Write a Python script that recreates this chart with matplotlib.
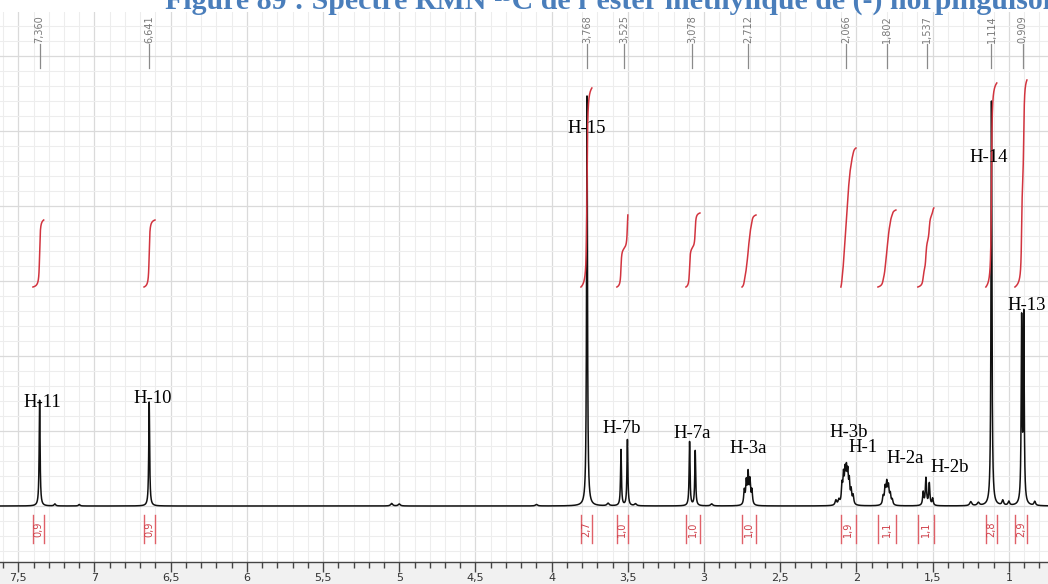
import numpy as np
import matplotlib
matplotlib.use("Agg")
import matplotlib.pyplot as plt
from matplotlib.ticker import MultipleLocator, FuncFormatter
from matplotlib.patches import Rectangle

# ---------------- data ----------------
# spectral lines: position (ppm), height (a.u.), half-width (ppm)
line_ppm = [7.360, 6.641,
            3.768,
            3.545, 3.503,
            3.095, 3.058,
            2.736, 2.723, 2.711, 2.699, 2.686,
            2.135, 2.115, 2.095, 2.085, 2.075, 2.066, 2.057, 2.047, 2.035, 2.022,
            1.825, 1.812, 1.801, 1.790, 1.778, 1.765,
            1.562, 1.544, 1.522, 1.500,
            1.114,
            0.916, 0.902,
            7.26, 7.10, 5.05, 5.00, 4.10, 3.63, 3.45, 2.95, 1.25, 1.20, 1.04, 1.00, 0.83]
line_height = [106, 104,
               410,
               56, 66,
               64, 55,
               14, 22, 30, 23, 14,
               5, 5, 18, 26, 28, 29, 27, 21, 13, 9,
               8, 16, 20, 17, 10, 5,
               13, 27, 22, 7,
               405,
               182, 186,
               2, 1.5, 2.5, 2, 1.5, 2.5, 2, 2, 4, 3, 5, 4, 4]
line_hwhm = [0.0035, 0.0035,
             0.0035,
             0.0035, 0.0035,
             0.0035, 0.0035,
             0.0045, 0.0045, 0.0045, 0.0045, 0.0045,
             0.006, 0.006, 0.0045, 0.0045, 0.0045, 0.0045, 0.0045, 0.0045, 0.0045, 0.005,
             0.005, 0.005, 0.005, 0.005, 0.005, 0.005,
             0.0045, 0.0045, 0.0045, 0.0045,
             0.0035,
             0.0035, 0.0035,
             0.006, 0.006, 0.008, 0.008, 0.008, 0.008, 0.008, 0.008, 0.008, 0.008, 0.006, 0.006, 0.006]

# peak annotations (text, ppm, baseline height)
label_text = ["H-11", "H-10", "H-15", "H-7b", "H-7a", "H-3a",
              "H-3b", "H-1", "H-2a", "H-2b", "H-14", "H-13"]
label_ppm = [7.344, 6.616, 3.768, 3.539, 3.080, 2.712,
             2.049, 1.957, 1.682, 1.386, 1.130, 0.881]
label_y = [99, 103, 373, 73, 68, 53, 69, 54, 43, 34, 344, 196]

# chemical shifts listed at the top
shift_ppm = [7.360, 6.641, 3.768, 3.525, 3.078, 2.712, 2.066, 1.802, 1.537, 1.114, 0.909]

# integrals
int_start = [7.404, 6.675, 3.808, 3.572, 3.119, 2.751, 2.102, 1.859, 1.597, 1.151, 0.960]
int_end = [7.333, 6.603, 3.736, 3.500, 3.027, 2.659, 2.003, 1.741, 1.492, 1.079, 0.881]
int_value = [0.9, 0.9, 2.7, 1.0, 1.0, 1.0, 1.9, 1.1, 1.1, 2.8, 2.9]
int_curve_height = [67, 67, 199, 72, 74, 72, 139, 77, 79, 204, 207]
int_curve_base = 219

title = "Figure 89 : Spectre RMN \u00b9\u00b3C de l\u2019ester m\u00e9thylique de (-) norpinguisone"

# ---------------- build spectrum ----------------
ppm = np.linspace(7.63, 0.74, 24000)
spec = np.zeros_like(ppm)
for p, h, g in zip(line_ppm, line_height, line_hwhm):
    spec += h * g ** 2 / ((ppm - p) ** 2 + g ** 2)

# ---------------- figure ----------------
W, H = 1048, 584
fig = plt.figure(figsize=(W / 100, H / 100), dpi=100)
fig.patch.set_facecolor("white")

# grey band under the axis
fig.patches.append(Rectangle((0, 0), 1, 22 / H, transform=fig.transFigure,
                             facecolor="#f1f1f1", edgecolor="none", zorder=-10))

ax = fig.add_axes([0, 22 / H, 1, 550 / H])
ax.set_facecolor("white")
ax.set_xlim(7.62, 0.743)
ax.set_ylim(-56, 494)

ax.xaxis.set_major_locator(MultipleLocator(0.5))
ax.xaxis.set_minor_locator(MultipleLocator(0.1))
ax.yaxis.set_major_locator(MultipleLocator(75))
ax.yaxis.set_minor_locator(MultipleLocator(15))
ax.grid(which="major", color="#dadada", lw=0.9, zorder=0)
ax.grid(which="minor", color="#ededed", lw=0.8, zorder=0)
ax.set_axisbelow(True)

ax.xaxis.set_major_formatter(FuncFormatter(lambda v, _: f"{v:g}".replace(".", ",")))
ax.tick_params(axis="x", which="major", direction="out", length=7, width=1,
               color="#444444", labelsize=8, labelcolor="#333333", pad=1)
ax.tick_params(axis="x", which="minor", direction="out", length=4, width=1,
               color="#444444")
ax.tick_params(axis="y", which="both", left=False, labelleft=False)
for s in ["top", "left", "right"]:
    ax.spines[s].set_visible(False)
ax.spines["bottom"].set_color("#444444")
ax.spines["bottom"].set_linewidth(1)

# spectrum
ax.plot(ppm, spec, color="#111111", lw=1.1, zorder=3)

# integral curves and bracket labels
red = "#d2343f"
for s, e, v, hh in zip(int_start, int_end, int_value, int_curve_height):
    m = (ppm <= s) & (ppm >= e)
    cum = np.cumsum(spec[m])
    cum = (cum - cum[0]) / (cum[-1] - cum[0])
    ax.plot(ppm[m], int_curve_base + hh * cum, color=red, lw=1.1, zorder=4)
    ax.plot([s, s], [-9, -37], color="#e06068", lw=1.0, zorder=4)
    ax.plot([e, e], [-9, -37], color="#e06068", lw=1.0, zorder=4)
    ax.text((s + e) / 2, -23, f"{v:.1f}".replace(".", ","), rotation=90,
            ha="center", va="center", fontsize=7, color="#d0404a", zorder=5)

# top shift labels
for p in shift_ppm:
    ax.plot([p, p], [438, 462], color="#8a8a8a", lw=0.9, zorder=4)
    ax.text(p, 477, f"{p:.3f}".replace(".", ","), rotation=90, ha="center",
            va="center", fontsize=7, color="#7a7a7a", zorder=5)

# peak annotations
for t, p, y in zip(label_text, label_ppm, label_y):
    ax.text(p, y, t, ha="center", va="baseline", fontsize=13.5,
            family="Liberation Serif", color="black", zorder=6)

# title (cut by the top edge, as in the source image)
fig.text(165 / W, 1 - 9 / H, title, ha="left", va="baseline", fontsize=21.5,
         fontweight="bold", family="Liberation Serif", color="#4a7ebb")

fig.savefig("out.png", dpi=100)
